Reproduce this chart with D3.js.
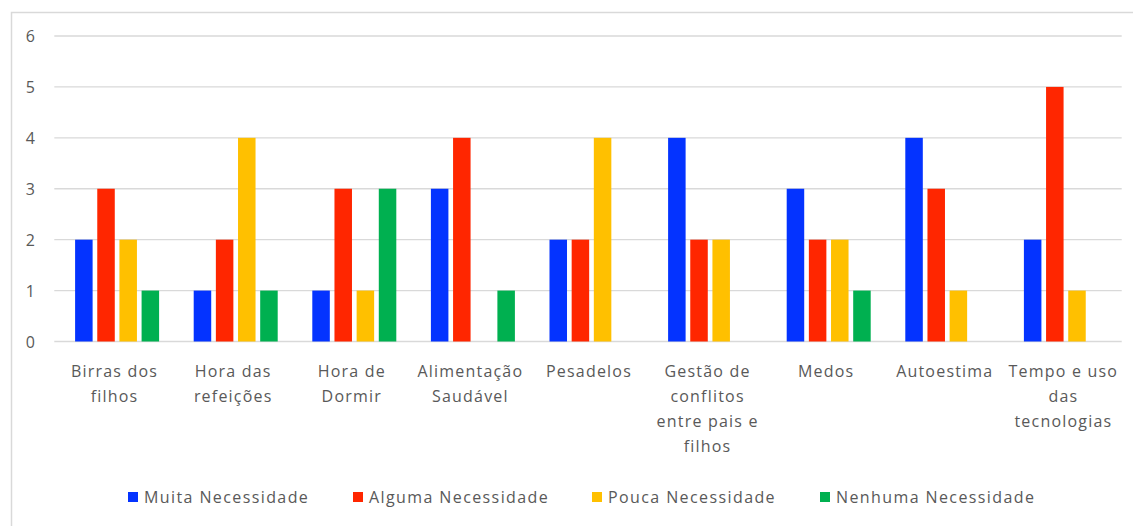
<!DOCTYPE html>
<html><head><meta charset="utf-8">
<script src="https://cdn.jsdelivr.net/npm/d3@7"></script>
<style>body{margin:0;background:#fff;} text{font-family:"Open Sans",sans-serif;fill:#595959;}</style>
</head><body><svg id="c" width="1133" height="526"></svg>
<script>
const categories = ["Birras dos filhos","Hora das refeições","Hora de Dormir","Alimentação Saudável","Pesadelos","Gestão de conflitos entre pais e filhos","Medos","Autoestima","Tempo e uso das tecnologias"];
const categoryLines = [["Birras dos","filhos"],["Hora das","refeições"],["Hora de","Dormir"],["Alimentação","Saudável"],["Pesadelos"],["Gestão de","conflitos","entre pais e","filhos"],["Medos"],["Autoestima"],["Tempo e uso","das","tecnologias"]];
const seriesNames = ["Muita Necessidade","Alguma Necessidade","Pouca Necessidade","Nenhuma Necessidade"];
const muita   = [2,1,1,3,2,4,3,4,2];
const alguma  = [3,2,3,4,2,2,2,3,5];
const pouca   = [2,4,1,0,4,2,2,1,1];
const nenhuma = [1,1,3,1,0,0,1,0,0];
const yTicks = [0,1,2,3,4,5,6];
const colors = ["#0433ff","#ff2600","#ffc000","#00b050"];

const series = [muita, alguma, pouca, nenhuma];
const svg = d3.select("#c");
svg.append("rect").attr("x",11.5).attr("y",12.5).attr("width",1135).attr("height",525)
  .attr("fill","none").attr("stroke","#d9d9d9").attr("stroke-width",1.5);

const x0 = d3.scaleBand().domain(categories).range([54.3,1121.7]).paddingInner(0).paddingOuter(0);
const x1 = d3.scaleBand().domain(d3.range(4)).range([-38.5,45.5]).paddingInner(0.21).paddingOuter(0);
const y = d3.scaleLinear().domain([0,6]).range([341.5,36]);

const grid = svg.append("g");
grid.selectAll("line").data(yTicks).join("line")
  .attr("x1",54.3).attr("x2",1121.7).attr("y1",d=>y(d)).attr("y2",d=>y(d))
  .attr("stroke","#d9d9d9").attr("stroke-width",1.3);

const yAxis = svg.append("g").attr("transform","translate(35,0)")
  .call(d3.axisLeft(y).tickValues(yTicks).tickFormat(d3.format("d")).tickSize(0).tickPadding(0));
yAxis.select(".domain").remove();
yAxis.selectAll("text").attr("font-size",16).attr("font-family","Open Sans").attr("fill","#595959").attr("dy","0.35em");

const groups = svg.append("g").selectAll("g").data(categories).join("g")
  .attr("transform",d=>`translate(${x0(d)+x0.bandwidth()/2},0)`);
groups.selectAll("rect").data((d,i)=>series.map((s,k)=>({k,v:s[i]}))).join("rect")
  .attr("x",d=>x1(d.k)).attr("width",x1.bandwidth())
  .attr("y",d=>y(d.v)).attr("height",d=>y(0)-y(d.v))
  .attr("fill",d=>colors[d.k]);

const labels = svg.append("g").selectAll("text").data(categories).join("text")
  .attr("text-anchor","middle").attr("font-size",16).attr("letter-spacing","1.2px")
  .attr("x",d=>x0(d)+x0.bandwidth()/2).attr("y",377);
labels.each(function(d,i){
  const t=d3.select(this);
  categoryLines[i].forEach((ln,j)=>t.append("tspan").attr("x",x0(d)+x0.bandwidth()/2+1).attr("dy",j?25:0).text(ln));
});

const legendX = [128,353,592,820];
const leg = svg.append("g").selectAll("g").data(seriesNames).join("g")
  .attr("transform",(d,i)=>`translate(${legendX[i]},497)`);
leg.append("rect").attr("x",0).attr("y",-5).attr("width",10).attr("height",10).attr("fill",(d,i)=>colors[i]);
leg.append("text").attr("x",16).attr("y",0).attr("dy","0.35em").attr("font-size",16).attr("letter-spacing","1.4px").text(d=>d);
</script></body></html>
